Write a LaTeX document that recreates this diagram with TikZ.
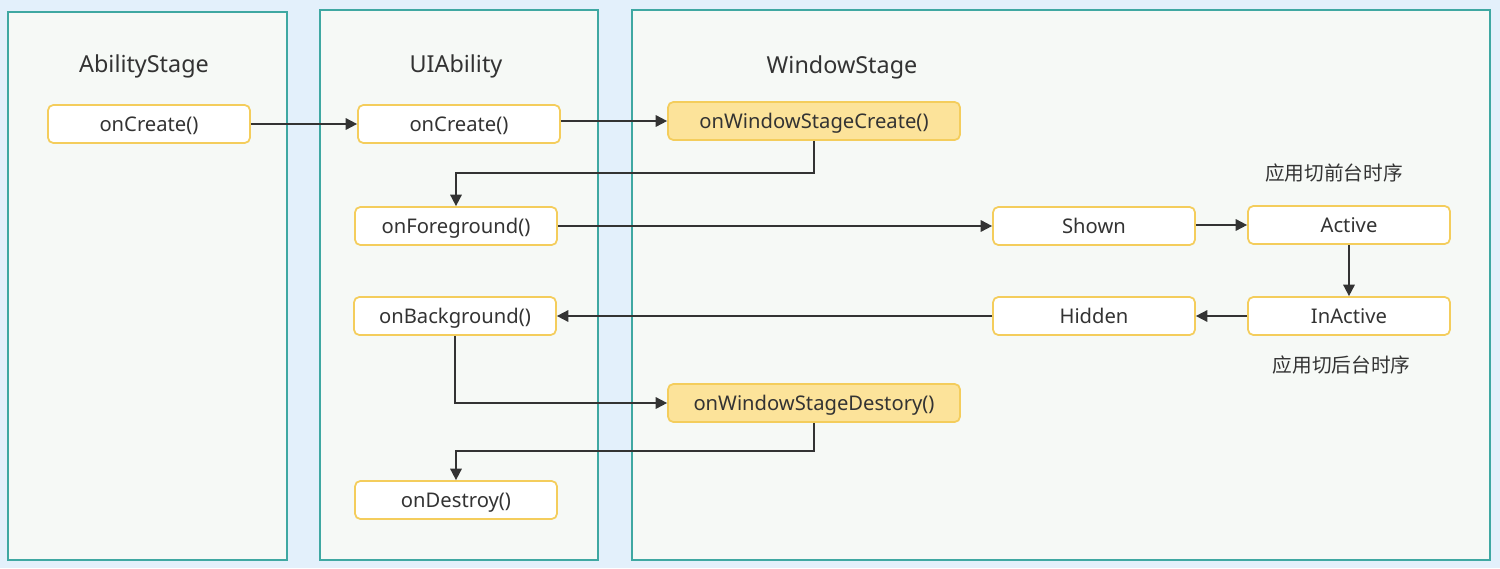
\documentclass[tikz,border=0pt]{standalone}
\usepackage{fontspec}
\setmainfont{Noto Sans}
\newfontfamily\cjk{Noto Sans CJK SC}
\usetikzlibrary{arrows.meta}
\definecolor{pagebg}{HTML}{E3F0FB}
\definecolor{panelbg}{HTML}{F6F9F6}
\definecolor{panelline}{HTML}{3FA8A2}
\definecolor{boxline}{HTML}{F4CD5C}
\definecolor{boxfill}{HTML}{FCE39A}
\definecolor{textgray}{HTML}{333333}

\begin{document}
\begin{tikzpicture}[x=0.02cm,y=-0.02cm,
  panel/.style={draw=panelline,fill=panelbg,line width=1pt},
  title/.style={font=\fontsize{13.3}{15}\selectfont,text=textgray,
    text height=9.5pt,text depth=0pt,inner sep=0pt},
  state/.style={draw=boxline,fill=white,line width=1pt,rounded corners=3pt,
    minimum width=4.04cm,minimum height=0.76cm,inner sep=0pt,
    text height=8.2pt,text depth=0pt,
    font=\fontsize{11.5}{13}\selectfont,text=textgray},
  winstate/.style={state,fill=boxfill,minimum width=5.84cm},
  note/.style={font=\cjk\fontsize{11.2}{13}\selectfont,text=textgray,inner sep=0pt},
  arr/.style={draw=textgray,line width=1pt,-{Triangle[length=6.5pt,width=6.5pt]}}]
\useasboundingbox[fill=pagebg] (0,0) rectangle (1500,568);
\path[panel] (8,12) rectangle (287,560);
\path[panel] (320,10) rectangle (598,560);
\path[panel] (632,10) rectangle (1490,560);
\node[title] (ast) at (144,64.5) {AbilityStage};
\node[title] (uia) at (456,64) {UIAbility};
\node[title] (wst) at (842,65) {WindowStage};
\node[state] (ascreate) at (149,124) {onCreate()};
\node[state] (uicreate) at (459,124) {onCreate()};
\node[winstate] (wscreate) at (814,121) {onWindowStageCreate()};
\node[state] (fg) at (456,226) {onForeground()};
\node[state] (shown) at (1094,226) {Shown};
\node[state] (active) at (1349,225) {Active};
\node[state] (bg) at (455,316) {onBackground()};
\node[state] (hidden) at (1094,316) {Hidden};
\node[state] (inactive) at (1349,316) {InActive};
\node[winstate] (wsdestroy) at (814,403) {onWindowStageDestory()};
\node[state] (destroy) at (456,500) {onDestroy()};
\node[note] (fore) at (1334,173.5) {应用切前台时序};
\node[note] (back) at (1341.5,365.5) {应用切后台时序};
\draw[arr] (ascreate) -- (uicreate);
\draw[arr] (uicreate.east |- wscreate) -- (wscreate);
\draw[arr] (wscreate.south) -- ++(0,32) -| (fg.north);
\draw[arr] (fg) -- (shown);
\draw[arr] (shown.east |- active) -- (active);
\draw[arr] (active) -- (inactive);
\draw[arr] (inactive) -- (hidden);
\draw[arr] (hidden) -- (bg);
\draw[arr] (bg.south) |- (wsdestroy.west);
\draw[arr] (wsdestroy.south) -- ++(0,28) -| (destroy.north);
\end{tikzpicture}
\end{document}
